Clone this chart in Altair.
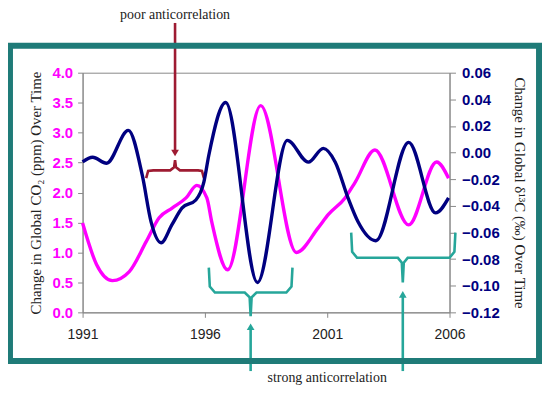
import altair as alt
import pandas as pd

# ---- data ----
mag_year = [1991.0, 1991.57, 1992.22, 1992.91, 1993.60, 1994.13, 1994.66, 1995.23, 1995.67,
            1996.08, 1996.28, 1996.93, 1998.28, 1999.74, 2000.63, 2001.04, 2001.73, 2002.14,
            2002.95, 2004.33, 2005.47, 2005.96]
mag_val = [1.49, 0.80, 0.53, 0.68, 1.18, 1.58, 1.74, 1.91, 2.12,
           1.91, 1.51, 0.71, 3.45, 1.00, 1.41, 1.63, 1.91, 2.17,
           2.71, 1.46, 2.51, 2.24]

nav_year = [1991.0, 1991.41, 1991.98, 1992.87, 1993.44, 1993.80, 1994.21, 1994.66, 1995.07,
            1995.63, 1995.96, 1996.16, 1996.85, 1998.15, 1999.37, 2000.23, 2000.84, 2001.33,
            2001.85, 2002.26, 2002.99, 2004.33, 2005.43, 2005.96]
nav_val = [-0.007, -0.0035, -0.008, 0.0167, -0.017, -0.052, -0.0677, -0.054, -0.0416,
           -0.0356, -0.022, -0.002, 0.0376, -0.0976, 0.0092, -0.0072, 0.0032, -0.0072,
           -0.034, -0.052, -0.0662, 0.0077, -0.0453, -0.034]

x_ticks = [1991, 1996, 2001, 2006]
left_ticks = [0.0, 0.5, 1.0, 1.5, 2.0, 2.5, 3.0, 3.5, 4.0]
right_ticks = [-0.12, -0.10, -0.08, -0.06, -0.04, -0.02, 0.00, 0.02, 0.04, 0.06]

# annotation shapes (in year / left-axis units)
poor_year = [1993.60, 1993.68, 1993.89, 1994.58, 1994.74, 1994.78, 1994.82, 1994.98, 1995.72, 1995.88, 1995.96]
poor_val = [2.24, 2.36, 2.37, 2.37, 2.42, 2.54, 2.42, 2.37, 2.37, 2.36, 2.24]
b1_year = [1996.16, 1996.20, 1996.41, 1997.63, 1997.83, 1997.87, 1997.91, 1998.11, 1999.33, 1999.54, 1999.58]
b1_val = [0.747, 0.43, 0.33, 0.33, 0.25, -0.066, 0.25, 0.33, 0.33, 0.43, 0.747]
b2_year = [2001.98, 2002.02, 2002.22, 2003.89, 2004.05, 2004.09, 2004.13, 2004.29, 2006.00, 2006.20, 2006.24]
b2_val = [1.33, 1.01, 0.91, 0.91, 0.83, 0.50, 0.83, 0.91, 0.91, 1.01, 1.33]

arrow_year = [1994.78, 1994.78, 1997.87, 1997.87, 2004.09, 2004.09]
arrow_val = [4.83, 2.70, -0.98, -0.24, -0.98, 0.30]
arrow_group = ["a0", "a0", "a1", "a1", "a2", "a2"]

head_year = [1994.78, 1997.87, 2004.09]
head_val = [2.66, -0.24, 0.30]
head_shape = ["triangle-down", "triangle-up", "triangle-up"]

label_text = ["poor anticorrelation", "strong anticorrelation"]
label_year = [1994.78, 2001.0]
label_val = [4.96, -1.10]

RED = "#9E1B32"
TEAL = "#26A69A"
FRAME = "#1F7B78"
MAGENTA = "#FF00FF"
NAVY = "#000080"

df_mag = pd.DataFrame({"year": mag_year, "v": mag_val})
df_nav = pd.DataFrame({"year": nav_year, "d": nav_val})

rows = []
for name, ys, vs, col in [("poor", poor_year, poor_val, RED),
                          ("b1", b1_year, b1_val, TEAL),
                          ("b2", b2_year, b2_val, TEAL)]:
    for i, (yy, vv) in enumerate(zip(ys, vs)):
        rows.append({"year": yy, "v": vv, "g": name, "i": i, "c": col})
for i, (yy, vv, g) in enumerate(zip(arrow_year, arrow_val, arrow_group)):
    rows.append({"year": yy, "v": vv, "g": g, "i": i, "c": RED if g == "a0" else TEAL})
df_ann = pd.DataFrame(rows)

df_head = pd.DataFrame({"year": head_year, "v": head_val, "shape": head_shape,
                        "c": [RED, TEAL, TEAL]})
df_lab = pd.DataFrame({"year": label_year, "v": label_val, "t": label_text})

x_scale = alt.Scale(domain=[1991, 2006], nice=False, zero=False)
yl_scale = alt.Scale(domain=[0, 4], nice=False, zero=False)
yr_scale = alt.Scale(domain=[-0.12, 0.06], nice=False, zero=False)

x_axis = alt.Axis(values=x_ticks, format="d", title=None, grid=False, labelFlush=False,
                  labelFont="Liberation Sans", labelFontSize=14, labelColor="#222",
                  labelPadding=10, tickSize=5, domainColor="#888", tickColor="#888")
left_axis = alt.Axis(values=left_ticks, format=".1f", grid=False,
                     title="Change in Global CO₂ (ppm) Over Time",
                     titleFont="Liberation Serif", titleFontSize=15, titleFontWeight="normal",
                     titleColor="#222", titlePadding=8,
                     labelFont="Liberation Sans", labelFontSize=15, labelFontWeight="bold",
                     labelColor=MAGENTA, labelPadding=5, tickSize=5,
                     domainColor="#888", tickColor="#888")
right_axis = alt.Axis(values=right_ticks, format=".2f", grid=False, orient="right",
                      title="Change in Global δ¹³C (‰) Over Time", titleAngle=90,
                      titleFont="Liberation Serif", titleFontSize=15, titleFontWeight="normal",
                      titleColor="#222", titlePadding=12,
                      labelFont="Liberation Sans", labelFontSize=15, labelFontWeight="bold",
                      labelColor=NAVY, labelPadding=6, tickSize=6,
                      domainColor="#888", tickColor="#888")

X = alt.X("year:Q", scale=x_scale, axis=x_axis)
YL = alt.Y("v:Q", scale=yl_scale, axis=left_axis)

frame = alt.Chart(pd.DataFrame({"k": [0]})).mark_rect(
    fill="transparent", fillOpacity=0, stroke=FRAME, strokeWidth=6
).encode(x=alt.value(-73), x2=alt.value(459), y=alt.value(-27), y2=alt.value(290))

mag = alt.Chart(df_mag).mark_line(color=MAGENTA, strokeWidth=3.4, interpolate="monotone").encode(
    x=X, y=YL)

ann = alt.Chart(df_ann).mark_line(strokeWidth=2.6).encode(
    x=X, y=YL,
    detail="g:N",
    order="i:Q",
    color=alt.Color("c:N", scale=None),
)

heads = alt.Chart(df_head).mark_point(filled=True, size=60, opacity=1).encode(
    x=X, y=YL,
    shape=alt.Shape("shape:N", scale=None),
    color=alt.Color("c:N", scale=None),
)

labels = alt.Chart(df_lab).mark_text(font="Liberation Serif", fontSize=14, color="#222").encode(
    x=X, y=YL, text="t:N")

left_layer = alt.layer(mag, ann, heads, labels)

nav = alt.Chart(df_nav).mark_line(color=NAVY, strokeWidth=3.4, interpolate="monotone").encode(
    x=X,
    y=alt.Y("d:Q", scale=yr_scale, axis=right_axis),
)

chart = alt.layer(left_layer, nav, frame).resolve_scale(y="independent").properties(
    width=369, height=241,
    autosize=alt.AutoSizeParams(type="none"),
    padding={"left": 75, "top": 64, "right": 93, "bottom": 72},
    background="white",
).configure_view(stroke="#888", strokeWidth=1)

chart.save("out.html", embed_options={"renderer": "svg", "actions": False})
